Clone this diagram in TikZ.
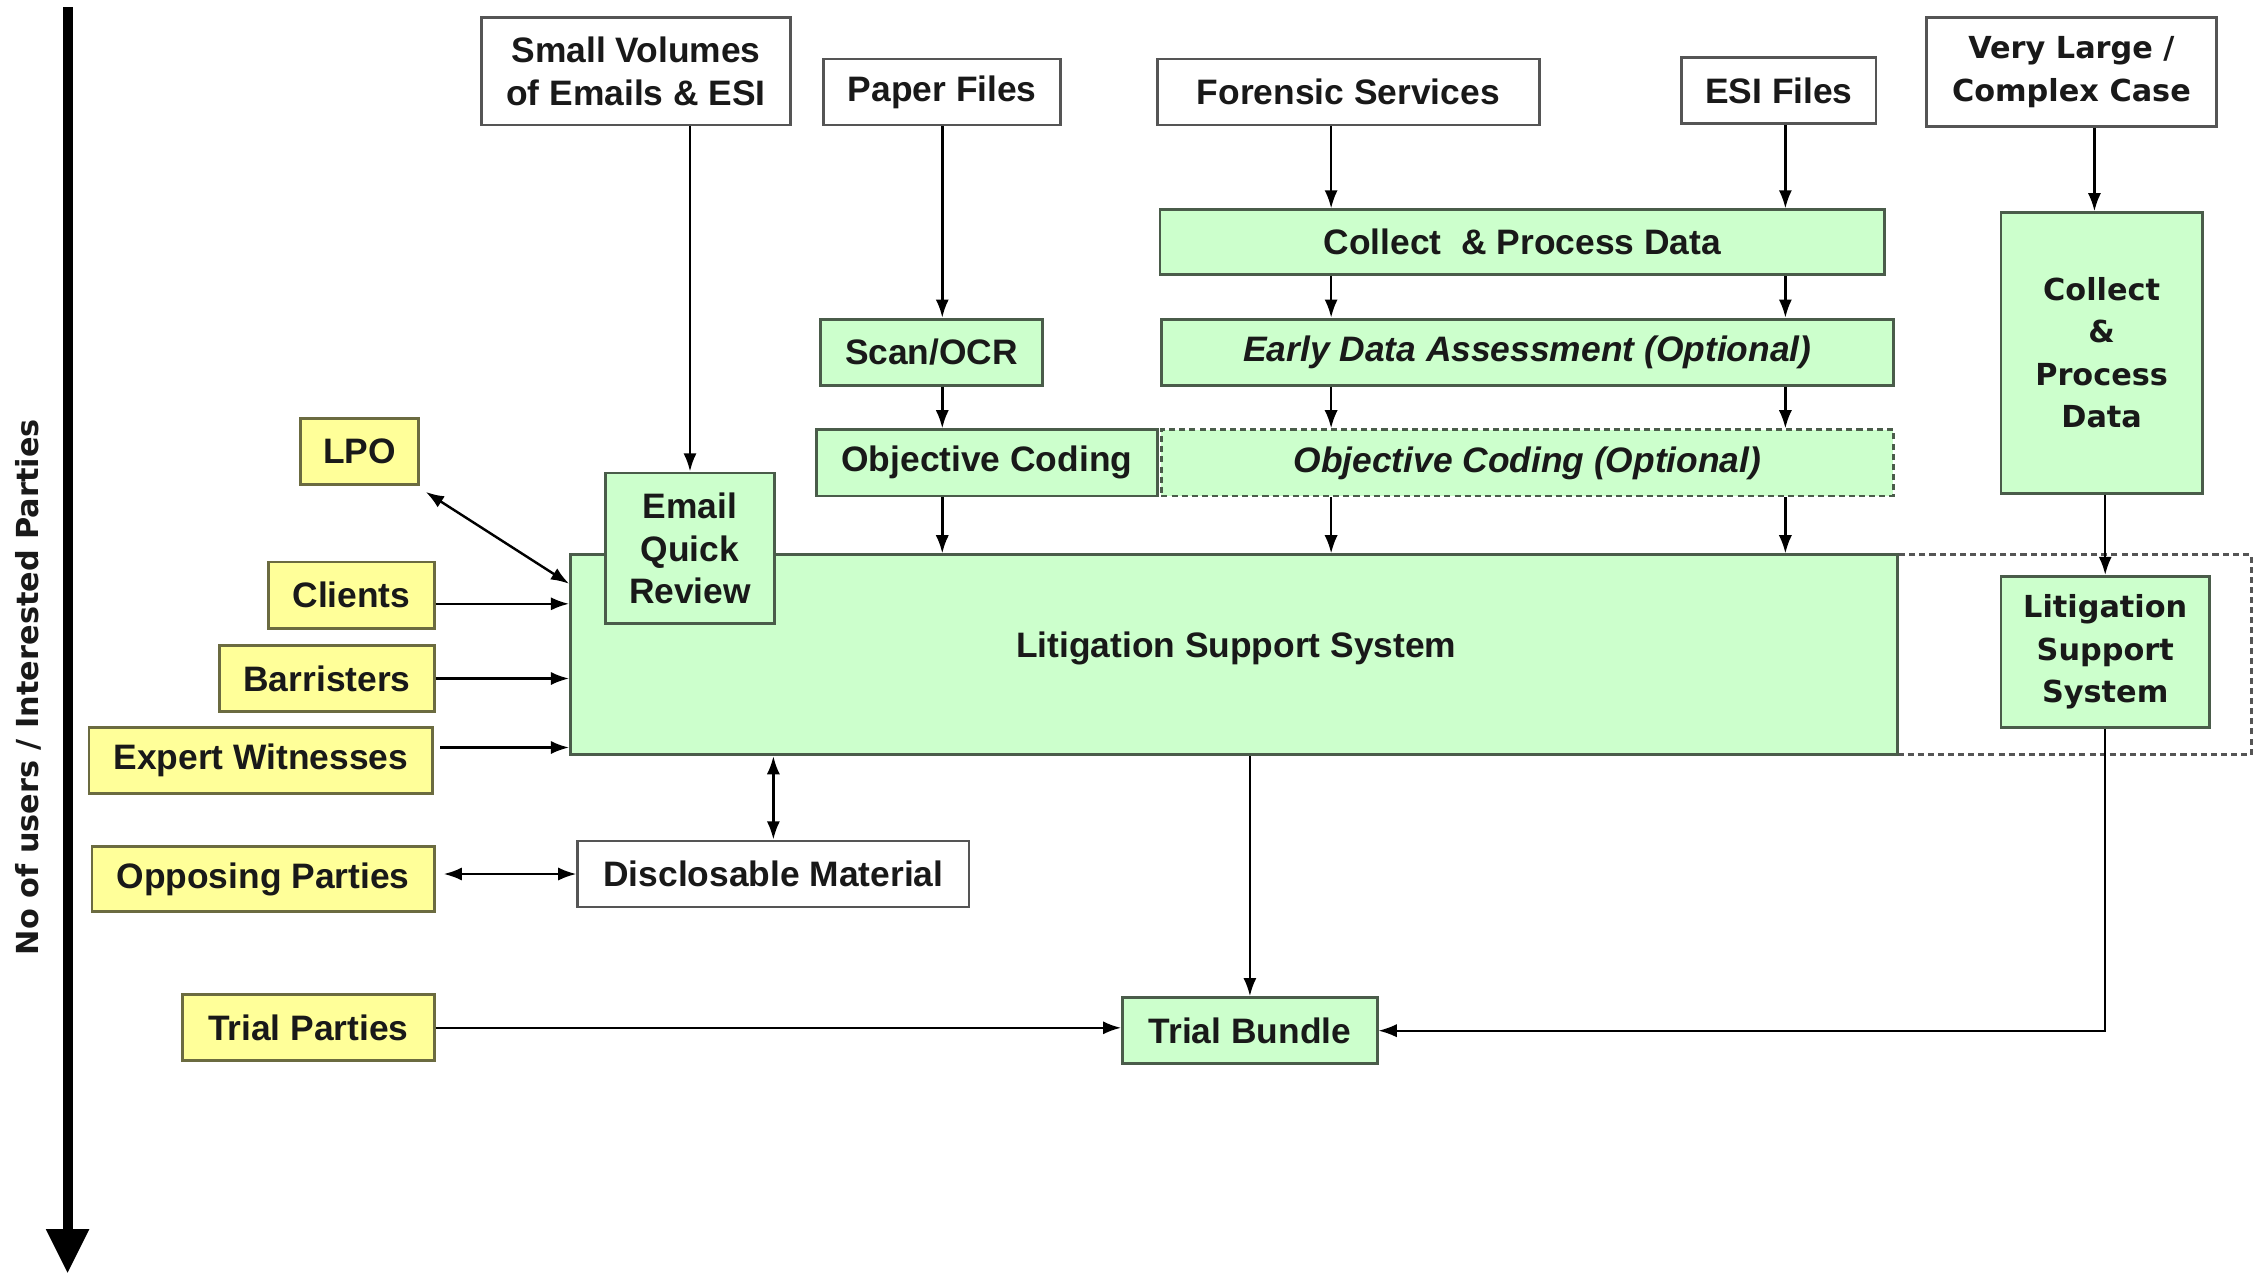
\documentclass[tikz,border=0pt]{standalone}
\usepackage{fontspec}
\setmainfont{Liberation Sans}
\newfontfamily\widefont{DejaVu Sans}
\usetikzlibrary{arrows.meta,positioning}

\definecolor{boxgreen}{HTML}{CCFFCC}
\definecolor{boxyellow}{HTML}{FFFF99}
\definecolor{edgegrey}{HTML}{555555}
\definecolor{edgegreen}{HTML}{4A5C4A}
\definecolor{edgeyellow}{HTML}{6B6B40}

\begin{document}
\begin{tikzpicture}[x=0.025cm,y=-0.025cm,>={Latex[length=9pt,width=6.5pt]},line width=1.2pt,
  every node/.style={font=\fontsize{17.5}{21}\selectfont\bfseries,align=center,inner sep=0pt,text=black!90},
  src/.style={draw=edgegrey,fill=white,line width=1.4pt},
  proc/.style={draw=edgegreen,fill=boxgreen,line width=1.4pt},
  party/.style={draw=edgeyellow,fill=boxyellow,line width=1.4pt},
  optional/.style={dash pattern=on 3pt off 2pt},
  wide/.style={font=\widefont\fontsize{15}{21}\selectfont\bfseries}]
  \useasboundingbox (0,0) rectangle (1568,888);

  % axis on the left
  \coordinate (axtop) at (47,5);
  \coordinate (axbot) at (47,886);
  \draw[line width=5pt,-{Triangle[length=22pt,width=20pt]}] (axtop) -- (axbot);
  \node[wide,rotate=90] (axlabel) at (20,478) {No of users / Interested Parties};

  % sources
  \node[src,minimum width=5.375cm,minimum height=1.875cm] (small) at (442.5,49.5) {Small Volumes\\of Emails \& ESI};
  \node[src,minimum width=4.125cm,minimum height=1.15cm] (paper) at (655.5,64) {Paper Files};
  \node[src,minimum width=6.65cm,minimum height=1.15cm] (forensic) at (938,64) {Forensic Services};
  \node[src,minimum width=3.375cm,minimum height=1.15cm] (esi) at (1237.5,63) {ESI Files};
  \node[src,wide,minimum width=5.05cm,minimum height=1.9cm] (large) at (1441,50) {Very Large /\\Complex Case};

  % processing
  \node[proc,minimum width=12.6cm,minimum height=1.125cm] (collect) at (1059,168.5) {Collect\ \ \& Process Data};
  \node[proc,minimum width=3.85cm,minimum height=1.15cm] (scan) at (648,245) {Scan/OCR};
  \node[proc,minimum width=12.725cm,minimum height=1.15cm] (eda) at (1062.5,245) {\itshape Early Data Assessment (Optional)};
  \node[proc,minimum width=5.925cm,minimum height=1.15cm] (objc) at (686.5,322) {Objective Coding};
  \node[proc,optional,minimum width=12.725cm,minimum height=1.15cm] (objopt) at (1062.5,322) {\itshape Objective Coding (Optional)};
  \node[proc,wide,minimum width=3.5cm,minimum height=4.875cm] (collect2) at (1462,245.5) {Collect\\\&\\Process\\Data};

  % litigation support systems
  \node[draw=edgegrey,fill=white,optional,line width=1.4pt,minimum width=6.15cm,minimum height=3.475cm] (lssbox) at (1443,455.5) {};
  \node[proc,minimum width=23.075cm,minimum height=3.475cm] (lss) at (858.5,455.5) {};
  \node (lsslabel) at (860,451) {Litigation Support System};
  \node[proc,minimum width=2.95cm,minimum height=2.625cm] (email) at (480,381.5) {Email\\Quick\\Review};
  \node[proc,wide,minimum width=3.625cm,minimum height=2.625cm] (lss2) at (1464.5,453.5) {Litigation\\Support\\System};

  % outputs
  \node[src,minimum width=6.8cm,minimum height=1.15cm] (discl) at (538,608) {Disclosable Material};
  \node[proc,minimum width=4.425cm,minimum height=1.15cm] (bundle) at (869.5,717) {Trial Bundle};

  % parties
  \node[party,minimum width=2.05cm,minimum height=1.15cm] (lpo) at (250,314) {LPO};
  \node[party,minimum width=2.875cm,minimum height=1.15cm] (clients) at (244.5,414) {Clients};
  \node[party,minimum width=3.725cm,minimum height=1.15cm] (barristers) at (227.5,472) {Barristers};
  \node[party,minimum width=5.975cm,minimum height=1.15cm] (expert) at (181.5,529) {Expert Witnesses};
  \node[party,minimum width=5.95cm,minimum height=1.125cm] (opposing) at (183,611.5) {Opposing Parties};
  \node[party,minimum width=4.375cm,minimum height=1.15cm] (trialp) at (214.5,715) {Trial Parties};

  \coordinate (colA) at (926,0);
  \coordinate (colB) at (1242,0);
  \coordinate (colC) at (1457,0);

  \path[->]
    (small.south -| email.north) edge (email.north)
    (paper.south) edge (paper.south |- scan.north)
    (scan.south -| paper.south) edge (objc.north -| paper.south)
    (objc.south -| paper.south) edge (lss.north -| paper.south)
    (forensic.south -| colA) edge (collect.north -| colA)
    (esi.south -| colB) edge (collect.north -| colB)
    (collect.south -| colA) edge (eda.north -| colA)
    (collect.south -| colB) edge (eda.north -| colB)
    (eda.south -| colA) edge (objopt.north -| colA)
    (eda.south -| colB) edge (objopt.north -| colB)
    (objopt.south -| colA) edge (lss.north -| colA)
    (objopt.south -| colB) edge (lss.north -| colB)
    (large.south -| colC) edge (collect2.north -| colC)
    (collect2.south -| lss2.north) edge (lss2.north)
    ([yshift=-4.3pt]clients.east) edge ([yshift=-4.3pt]clients.east -| lss.west)
    (barristers.east) edge (barristers.east -| lss.west)
    ([xshift=3pt,yshift=6.4pt]expert.east) edge ([yshift=6.4pt]expert.east -| lss.west)
    (lss.south -| bundle.north) edge (bundle.north)
    (trialp.east) edge (trialp.east -| bundle.west);

  \path[<->]
    ([shift={(3pt,-3pt)}]lpo.south east) edge ([yshift=-15pt]lss.north west)
    (discl.north) edge (discl.north |- lss.south)
    ([xshift=4pt]discl.west -| opposing.east) edge (discl.west);

  \draw[->,line width=0.8pt] (lss2.south) -- (lss2.south |- bundle.east) -- (bundle.east);

\end{tikzpicture}
\end{document}
